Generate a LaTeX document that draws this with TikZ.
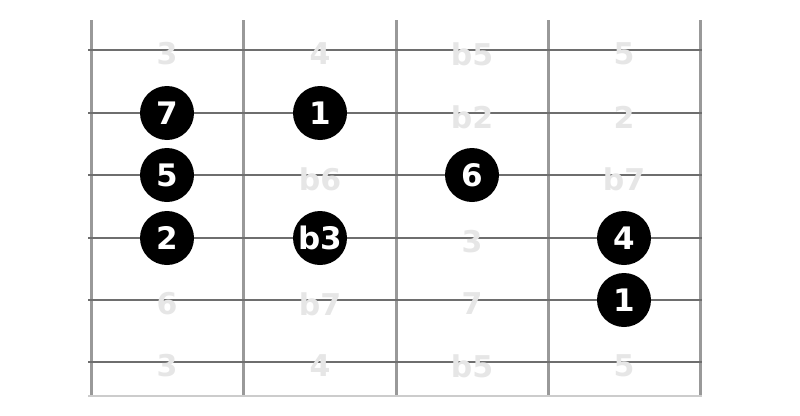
\documentclass[tikz,border=0pt]{standalone}
\usepackage{fontspec}
\setmainfont{DejaVu Sans}
\definecolor{fretc}{HTML}{999999}
\definecolor{strc}{HTML}{6E6E6E}
\definecolor{ghost}{HTML}{E6E6E6}
\definecolor{basec}{HTML}{CCCCCC}
\tikzset{
  fret/.style={draw=fretc, line width=3pt},
  str/.style={draw=strc, line width=2pt},
  ghostlbl/.style={text=ghost, font=\bfseries\fontsize{30}{30}\selectfont, inner sep=0pt, yshift=-4pt},
  dotlbl/.style={circle, fill=black, minimum size=54pt, inner sep=0pt, text=white, font=\bfseries\fontsize{31}{31}\selectfont}
}
\begin{document}
\begin{tikzpicture}[x=1pt,y=-1pt]
\useasboundingbox (0,0) rectangle (800,415);
% frets
\foreach \i/\x in {0/91,1/243,2/396,3/548,4/700} {
  \coordinate (ft\i) at (\x,20);
  \coordinate (fb\i) at (\x,396);
  \draw[fret] (ft\i) -- (fb\i);
}
\coordinate (bl) at (88,396);
\coordinate (br) at (702,396);
\draw[draw=basec, line width=2pt] (bl) -- (br);
% strings
\foreach \j/\y in {1/50,2/113,3/175,4/238,5/300,6/362} {
  \coordinate (sl\j) at (88,\y);
  \coordinate (sr\j) at (702,\y);
  \draw[str] (sl\j) -- (sr\j);
}
% ghost labels
\foreach \lbl/\x/\y [count=\k] in {3/167/50,4/320/50,b5/472/50,5/624/50,
  b2/472/113,2/624/113,
  b6/320/175,b7/624/175,
  3/472/238,
  6/167/300,b7/320/300,7/472/300,
  3/167/362,4/320/362,b5/472/362,5/624/362} {
  \node[ghostlbl] (g\k) at (\x,\y) {\lbl};
}
% dots
\foreach \lbl/\x/\y [count=\k] in {7/167/113,1/320/113,
  5/167/175,6/472/175,
  2/167/238,b3/320/238,4/624/238,
  1/624/300} {
  \node[dotlbl] (d\k) at (\x,\y) {\lbl};
}
\end{tikzpicture}
\end{document}
